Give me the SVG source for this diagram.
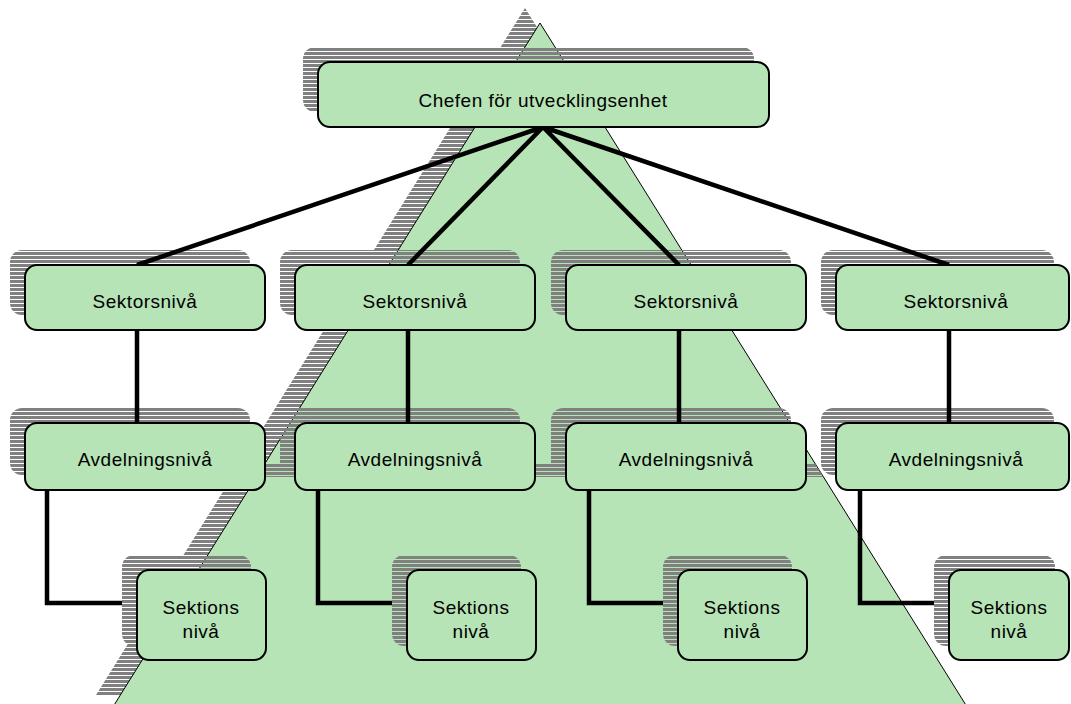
<svg xmlns="http://www.w3.org/2000/svg" width="1071" height="704" viewBox="0 0 1071 704">
<defs>
<pattern id="st" width="10" height="4" patternUnits="userSpaceOnUse"><rect width="10" height="3" fill="#808080"/></pattern>
<clipPath id="tri"><polygon points="540,23 111,710 969,710"/></clipPath>
</defs>
<style>
.box{fill:#b6e4b6;stroke:#000;stroke-width:2}
.sh{fill:url(#st)}
.t{font-family:"Liberation Sans",Arial,sans-serif;font-size:19px;letter-spacing:0.5px;text-anchor:middle;fill:#000}
.c{stroke:#000;stroke-width:4.5;fill:none}
</style>
<rect width="1071" height="704" fill="#fff"/>
<g id="pyramid">
<polygon points="525,8 96,695 954,695" class="sh"/>
<polygon points="540,23 111,710 969,710" fill="#b6e4b6" stroke="#000" stroke-width="1"/>
<rect x="240" y="463" width="600" height="14" class="sh" clip-path="url(#tri)"/>
</g>
<g id="shadows">
<rect x="303" y="47" width="451" height="65" rx="12" class="sh"/>
<rect x="10" y="250" width="240" height="65" rx="12" class="sh"/>
<rect x="280" y="250" width="240" height="65" rx="12" class="sh"/>
<rect x="551" y="250" width="240" height="65" rx="12" class="sh"/>
<rect x="821" y="250" width="233" height="65" rx="12" class="sh"/>
<rect x="10" y="408" width="240" height="67" rx="12" class="sh"/>
<rect x="280" y="408" width="240" height="67" rx="12" class="sh"/>
<rect x="551" y="408" width="240" height="67" rx="12" class="sh"/>
<rect x="821" y="408" width="233" height="67" rx="12" class="sh"/>
<rect x="122" y="555" width="129" height="91" rx="12" class="sh"/>
<rect x="392" y="555" width="129" height="91" rx="12" class="sh"/>
<rect x="663" y="555" width="129" height="91" rx="12" class="sh"/>
<rect x="934" y="555" width="121" height="91" rx="12" class="sh"/>
</g>
<g id="connectors">
<path class="c" d="M543,127 L137,265 M543,127 L408,265 M543,127 L679,265 M543,127 L949,265"/>
<path class="c" d="M137,330 V423 M408,330 V423 M679,330 V423 M949,330 V423"/>
<path class="c" d="M47,490 V603 H122 M318,490 V603 H392 M589,490 V603 H663 M860,490 V603 H934"/>
</g>
<g id="chefen"><rect x="318" y="62" width="451" height="65" rx="12" class="box"/><text x="543" y="107" class="t">Chefen för utvecklingsenhet</text></g>
<g id="sektor1"><rect x="25" y="265" width="240" height="65" rx="12" class="box"/><text x="145" y="308" class="t">Sektorsnivå</text></g>
<g id="sektor2"><rect x="295" y="265" width="240" height="65" rx="12" class="box"/><text x="415" y="308" class="t">Sektorsnivå</text></g>
<g id="sektor3"><rect x="566" y="265" width="240" height="65" rx="12" class="box"/><text x="686" y="308" class="t">Sektorsnivå</text></g>
<g id="sektor4"><rect x="836" y="265" width="233" height="65" rx="12" class="box"/><text x="956" y="308" class="t">Sektorsnivå</text></g>
<g id="avd1"><rect x="25" y="423" width="240" height="67" rx="12" class="box"/><text x="145" y="466" class="t">Avdelningsnivå</text></g>
<g id="avd2"><rect x="295" y="423" width="240" height="67" rx="12" class="box"/><text x="415" y="466" class="t">Avdelningsnivå</text></g>
<g id="avd3"><rect x="566" y="423" width="240" height="67" rx="12" class="box"/><text x="686" y="466" class="t">Avdelningsnivå</text></g>
<g id="avd4"><rect x="836" y="423" width="233" height="67" rx="12" class="box"/><text x="956" y="466" class="t">Avdelningsnivå</text></g>
<g id="sek1"><rect x="137" y="570" width="129" height="90" rx="12" class="box"/><text x="201" y="614" class="t">Sektions</text><text x="201" y="638" class="t">nivå</text></g>
<g id="sek2"><rect x="407" y="570" width="129" height="90" rx="12" class="box"/><text x="471" y="614" class="t">Sektions</text><text x="471" y="638" class="t">nivå</text></g>
<g id="sek3"><rect x="678" y="570" width="129" height="90" rx="12" class="box"/><text x="742" y="614" class="t">Sektions</text><text x="742" y="638" class="t">nivå</text></g>
<g id="sek4"><rect x="949" y="570" width="120" height="90" rx="12" class="box"/><text x="1009" y="614" class="t">Sektions</text><text x="1009" y="638" class="t">nivå</text></g>
</svg>
